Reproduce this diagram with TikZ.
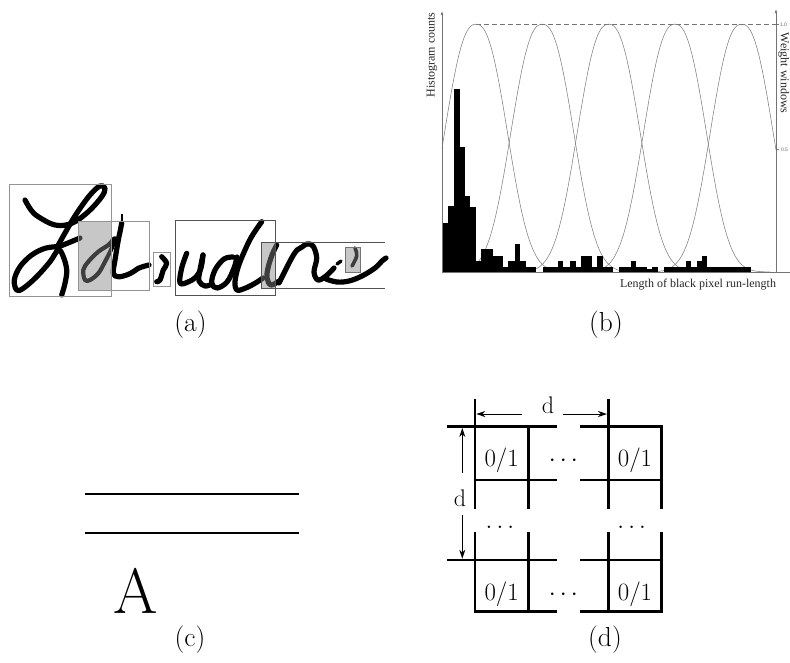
\documentclass[tikz,border=0pt]{standalone}
\usepackage{fontspec}
\newfontfamily\tms{Liberation Serif}
\newfontfamily\hlv{Liberation Sans}
\usetikzlibrary{arrows.meta}
\begin{document}
\begin{tikzpicture}[x=1pt,y=-1pt,
  hw/.style={line width=5.2pt, line cap=round, line join=round, black},
  bxlight/.style={draw=black!42, line width=0.8pt},
  bxdark/.style={draw=black!68, line width=0.8pt},
  ov/.style={fill=black!48, fill opacity=0.46},
  wcurve/.style={draw=black!50, line width=0.55pt},
  axisln/.style={draw=black!55, line width=0.6pt},
  gl/.style={line width=2.7pt, line cap=rect},
  dimarrow/.style={line width=1pt, -{Stealth[length=9pt,width=6pt]}},
  captxt/.style={font=\fontsize{27.5}{31}\selectfont, inner sep=0pt},
  celltxt/.style={font=\fontsize{24}{28}\selectfont, inner sep=0pt, anchor=base},
  plottxt/.style={font=\tms\fontsize{12}{14}\selectfont, inner sep=0pt, text=black!85},
  ticktxt/.style={font=\hlv\fontsize{5}{6}\selectfont, inner sep=0pt, text=black!60}]
\useasboundingbox (0,0) rectangle (790,662);

% ================= (a) handwriting =================
% L
\draw[hw] plot[smooth, tension=0.6] coordinates {(25,200) (31,210) (38.3,216.7) (55,225) (71.7,223.3) (88.3,211.7) (101.7,196.7) (105,188.3) (100,186) (90,195) (76.7,213.3) (66.7,230) (58.3,245)};
\draw[hw] plot[smooth, tension=0.6] coordinates {(56.7,246.7) (45,248.3) (31.7,255) (20,266.7) (14.3,280) (16.7,290) (23.3,288.3) (36.7,276.7) (50,261.7) (58.3,250) (63.3,256.7) (66.7,270) (65,283.3) (61.7,295)};
\draw[hw] plot[smooth, tension=0.6] coordinates {(58,247) (68,243) (80,238)};
% a
\draw[hw, line width=4.2pt] plot[smooth cycle, tension=0.6] coordinates {(85,280) (83.3,270) (88.3,261.7) (98.3,251.7) (108.3,245) (115,238.3) (111.7,248.3) (105,261.7) (98.3,273.3) (90,280)};
\draw[hw] plot[smooth, tension=0.6] coordinates {(121.7,223) (120,232) (118.3,240) (115,260) (113.3,273.3) (118.3,276.7) (126.7,275) (133.3,271.7) (138.3,268.3) (145,266) (149,265)};
\draw[line width=1.2pt] (122,214) -- (122,224);
% small i
\draw[hw] plot[smooth, tension=0.6] coordinates {(161.7,256.7) (166.7,263.3) (163.3,270) (160,280) (156.7,281.7)};
% u
\draw[hw] plot[smooth, tension=0.6] coordinates {(186.7,253.3) (181.7,268) (180,283) (188,282) (196,277) (201,268) (203,255)};
\draw[hw] plot[smooth, tension=0.6] coordinates {(203,255) (200,270) (199,281) (205,286) (212,284)};
% d
\draw[hw] plot[smooth, tension=0.6] coordinates {(233,257) (224,259) (215,270) (211.7,283) (217,288) (227,282) (234,268) (237,257)};
\draw[hw] plot[smooth, tension=0.6] coordinates {(261.7,221.7) (252,236) (245,250) (238.3,266.7) (235,281.7) (237,290) (245,288.3) (255,283.3) (263,278)};
% i r n e
\draw[hw] plot[smooth, tension=0.6] coordinates {(276.7,245) (272,255) (268,268) (267,278) (271,285) (279,281)};
\draw[hw] plot[smooth, tension=0.6] coordinates {(279,283) (285,271) (291.7,258) (297,250) (302,247) (307,244) (313,246) (316.7,258) (314,272) (318,280) (326,276) (334,268)};
\draw[hw, line width=3.4pt] (337,264) -- (341,261);
\draw[hw] plot[smooth, tension=0.6] coordinates {(326,279) (337,282) (349,281) (362,276) (375,268) (382,261) (386,258)};
\draw[hw, line width=3.6pt] plot[smooth, tension=0.6] coordinates {(355,248) (356.7,256) (352,266)};

% overlays
\fill[ov] (78.3,221.7) rectangle (111.7,290.7);
\fill[ov] (261,242.7) rectangle (275,288.3);
\fill[ov] (345.7,247.3) rectangle (360,272.7);
% boxes
\draw[bxlight] (9.3,184) rectangle (111.7,296.7);
\draw[bxlight] (78.3,221.7) rectangle (149,290.7);
\draw[bxlight] (153.3,252.7) rectangle (170.7,286);
\draw[bxdark] (175.7,220) rectangle (275,295);
\draw[bxdark] (385,242.7) -- (261,242.7) -- (261,288.3) -- (385,288.3);
\draw[bxlight, draw=black!55] (345.7,247.3) rectangle (360,272.7);

\node[captxt] (capa) at (190.5,325) {(a)};

% ================= (b) histogram =================
\draw[black!55, line width=0.6pt, dash pattern=on 5pt off 3pt] (476,24.3) -- (776,24.3);
\foreach \p/\a/\b in {476/442/571, 542.3/447.3/637.3, 608.7/513.7/703.7, 675/580/770, 741.7/646.7/776}
  \draw[wcurve] plot[domain=\a:\b, samples=110] (\x, {272-247.7*exp(-pow((abs(\x-\p)+0.01)/39.6,2.41))});
\foreach \a/\b/\t in {442.3/448.3/223, 448.3/453.7/206, 453.7/460/88.5, 460/465/147, 465/470/195.7,
  470/475.7/206.7, 475.7/481/261, 481/492.7/249.3, 492.7/503.3/255.7, 503.3/508.3/266.5,
  508.3/515/261, 515/520/244, 520/525.7/261, 525.7/535.7/266.5, 543.3/558.3/266.5,
  558.3/563.3/261, 563.3/570/266.5, 570/575.7/261, 575.7/581/266.5, 581/591.7/255.7,
  591.7/597.3/266.5, 597.3/602.7/255.7, 602.7/613.3/266.5, 619/630.7/266.5, 630.7/635.7/261,
  635.7/646.7/266.5, 646.7/651.7/269, 651.7/657.7/266.5, 664/686/266.5, 686/690.7/261,
  690.7/696.7/266.5, 696.7/701.7/261, 701.7/706.7/255.7, 706.7/751/266.5}
  \fill[black] (\a,272) rectangle (\b,\t);
\coordinate (o) at (442,272);
\coordinate (ytop) at (442,11);
\coordinate (r0) at (776,272);
\coordinate (rtop) at (776,9);
\coordinate (xend) at (790,272);
\draw[axisln, -{Latex[length=4pt,width=2.6pt]}] (o) -- (ytop);
\draw[axisln, -{Latex[length=4pt,width=2.6pt]}] (r0) -- (rtop);
\draw[axisln] (o) -- (xend);
\draw[axisln] (776,24.3) -- (779,24.3);
\draw[axisln] (776,149.7) -- (779,149.7);
\node[ticktxt] (t10) at (783.5,24.3) {1.0};
\node[ticktxt] (t05) at (784.5,149.7) {0.5};
\node[plottxt, rotate=90] (ylab) at (432,55) {Histogram counts};
\node[plottxt, rotate=-90] (wlab) at (783.8,73) {Weight windows};
\node[plottxt] (xlab) at (698,285) {Length of black pixel run-length};

\node[captxt] (capb) at (606,325) {(b)};

% ================= (c) =================
\coordinate (c1a) at (85,494);
\coordinate (c1b) at (299,494);
\coordinate (c2a) at (85,533.3);
\coordinate (c2b) at (299,533.3);
\draw[line width=2pt] (c1a) -- (c1b);
\draw[line width=2pt] (c2a) -- (c2b);
\node[inner sep=0pt, anchor=base, font=\fontsize{64}{70}\selectfont] (bigA) at (136,613.3) {A};
\node[captxt] (capc) at (190,640) {(c)};

% ================= (d) =================
% horizontal grid lines
\draw[gl] (448.3,426.7) -- (556,426.7);
\draw[gl] (581.7,426.7) -- (661.7,426.7);
\draw[gl] (475,480) -- (556,480);
\draw[gl] (581.7,480) -- (661.7,480);
\draw[gl] (448.3,560) -- (556,560);
\draw[gl] (581.7,560) -- (661.7,560);
\draw[gl] (475,611.7) -- (556,611.7);
\draw[gl] (581.7,611.7) -- (661.7,611.7);
% vertical grid lines
\draw[gl] (475,400) -- (475,507.3);
\draw[gl] (475,533.3) -- (475,611.7);
\draw[gl] (528.3,426.7) -- (528.3,507.3);
\draw[gl] (528.3,533.3) -- (528.3,611.7);
\draw[gl] (608.3,400) -- (608.3,507.3);
\draw[gl] (608.3,533.3) -- (608.3,611.7);
\draw[gl] (661.7,426.7) -- (661.7,507.3);
\draw[gl] (661.7,533.3) -- (661.7,611.7);
% dimension arrows
\coordinate (hl) at (476.3,414);
\coordinate (hm1) at (521.7,414);
\coordinate (hm2) at (563.3,414);
\coordinate (hr) at (607,414);
\coordinate (vt) at (462.3,428);
\coordinate (vm1) at (462.3,472.7);
\coordinate (vm2) at (462.3,515);
\coordinate (vb) at (462.3,558.7);
\draw[dimarrow] (hm1) -- (hl);
\draw[dimarrow] (hm2) -- (hr);
\draw[dimarrow] (vm1) -- (vt);
\draw[dimarrow] (vm2) -- (vb);
\node[celltxt] (dh) at (548,413.3) {d};
\node[celltxt] (dv) at (460,506) {d};
% cell labels
\node[celltxt] (c11) at (501.7,466.7) {$0/1$};
\node[celltxt] (c12) at (635,466.7) {$0/1$};
\node[celltxt] (c21) at (501.7,600) {$0/1$};
\node[celltxt] (c22) at (635,600) {$0/1$};
\node[celltxt] (cd1) at (563.3,466.7) {$\cdots$};
\node[celltxt] (cd2) at (563.3,600) {$\cdots$};
\node[celltxt] (ld1) at (500,528) {$\ldots$};
\node[celltxt] (ld2) at (631.7,528) {$\ldots$};
\node[captxt] (capd) at (605,640) {(d)};
\end{tikzpicture}
\end{document}
